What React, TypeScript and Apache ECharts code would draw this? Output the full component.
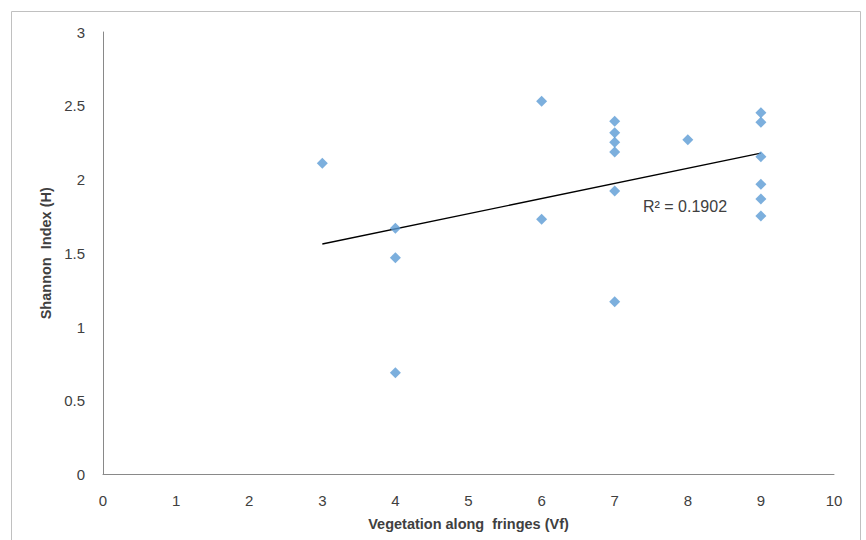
import React, { useEffect, useRef } from "react";
import * as echarts from "echarts";

const xValues = [3, 4, 4, 4, 6, 6, 7, 7, 7, 7, 7, 7, 8, 9, 9, 9, 9, 9, 9];
const yValues = [2.11, 1.67, 1.47, 0.69, 2.53, 1.73, 2.395, 2.317, 2.252, 2.186, 1.922, 1.172, 2.27, 2.453, 2.388, 2.155, 1.967, 1.868, 1.753];
const r2Label = "R² = 0.1902";
const xTitle = "Vegetation along  fringes (Vf)";
const yTitle = "Shannon  Index (H)";

function regression(xs: number[], ys: number[]) {
  const n = xs.length;
  const mx = xs.reduce((a, b) => a + b, 0) / n;
  const my = ys.reduce((a, b) => a + b, 0) / n;
  let sxy = 0, sxx = 0;
  for (let i = 0; i < n; i++) {
    sxy += (xs[i] - mx) * (ys[i] - my);
    sxx += (xs[i] - mx) * (xs[i] - mx);
  }
  const slope = sxy / sxx;
  return { slope, intercept: my - slope * mx };
}

export default function App() {
  const ref = useRef<HTMLDivElement>(null);
  useEffect(() => {
    if (!ref.current) return;
    const chart = echarts.init(ref.current, undefined, { renderer: "svg" });
    const { slope, intercept } = regression(xValues, yValues);
    const x0 = Math.min(...xValues);
    const x1 = Math.max(...xValues);
    const font = "'Liberation Sans', Arial, sans-serif";
    chart.setOption({
      animation: false,
      backgroundColor: "#ffffff",
      grid: { left: 103, top: 32, right: 32, bottom: 65.5, containLabel: false },
      xAxis: {
        type: "value",
        min: 0,
        max: 10,
        interval: 1,
        name: xTitle,
        nameLocation: "middle",
        nameGap: 42,
        nameTextStyle: { fontFamily: font, fontSize: 14.5, fontWeight: "bold", color: "#404040" },
        axisLine: { lineStyle: { color: "#898989", width: 1 } },
        axisTick: { show: false },
        splitLine: { show: false },
        axisLabel: { fontFamily: font, fontSize: 15, color: "#404040", margin: 18 },
      },
      yAxis: {
        type: "value",
        min: 0,
        max: 3,
        interval: 0.5,
        name: yTitle,
        nameLocation: "middle",
        nameGap: 49,
        nameRotate: 90,
        nameTextStyle: { fontFamily: font, fontSize: 14.5, fontWeight: "bold", color: "#404040" },
        axisLine: { show: true, lineStyle: { color: "#898989", width: 1 } },
        axisTick: { show: false },
        splitLine: { show: false },
        axisLabel: { fontFamily: font, fontSize: 15, color: "#404040", margin: 18 },
      },
      graphic: [
        {
          type: "rect",
          shape: { x: 11.5, y: 11.5, width: 849, height: 540 },
          style: { fill: "none", stroke: "#c0c0c0", lineWidth: 1 },
          silent: true,
          z: -1,
        },
        {
          type: "text",
          x: 643,
          y: 198,
          style: { text: r2Label, fontFamily: font, fontSize: 16, fill: "#404040" },
        },
      ],
      series: [
        {
          type: "scatter",
          data: xValues.map((x, i) => [x, yValues[i]]),
          symbol: "diamond",
          symbolSize: 11,
          itemStyle: { color: "#5B9BD5" },
          z: 3,
        },
        {
          type: "line",
          data: [
            [x0, intercept + slope * x0],
            [x1, intercept + slope * x1],
          ],
          showSymbol: false,
          symbol: "none",
          lineStyle: { color: "#000000", width: 1.3 },
          z: 2,
        },
      ],
    });
    return () => chart.dispose();
  }, []);
  return <div ref={ref} style={{ position: "absolute", left: 0, top: 0, width: 866, height: 540 }} />;
}
